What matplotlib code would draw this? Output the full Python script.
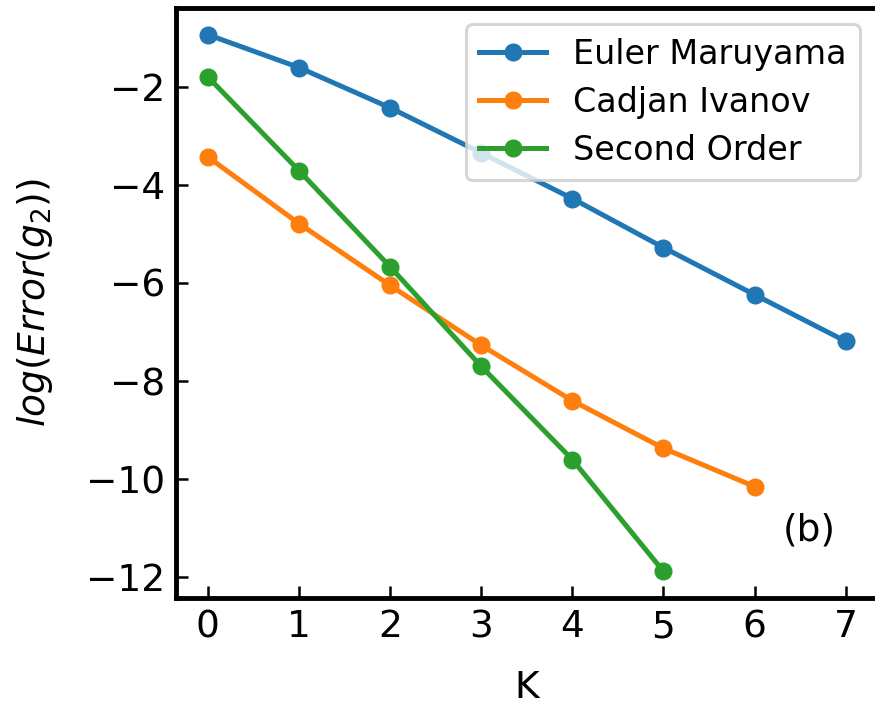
import matplotlib
matplotlib.use("Agg")
import matplotlib.pyplot as plt

K_euler = [0, 1, 2, 3, 4, 5, 6, 7]
err_euler = [-0.94, -1.61, -2.43, -3.35, -4.28, -5.28, -6.24, -7.19]

K_cadjan = [0, 1, 2, 3, 4, 5, 6]
err_cadjan = [-3.43, -4.79, -6.05, -7.27, -8.40, -9.37, -10.15]

K_second = [0, 1, 2, 3, 4, 5]
err_second = [-1.80, -3.71, -5.67, -7.70, -9.60, -11.88]

fig = plt.figure(figsize=(8.75, 7.08), dpi=100)
ax = fig.add_axes([0.201, 0.155, 0.802, 0.834])

ax.plot(K_euler, err_euler, 'o-', lw=3.6, ms=12, label='Euler Maruyama')
ax.plot(K_cadjan, err_cadjan, 'o-', lw=3.6, ms=12, label='Cadjan Ivanov')
ax.plot(K_second, err_second, 'o-', lw=3.6, ms=12, label='Second Order')

ax.set_xticks(range(8))
ax.set_yticks([-12, -10, -8, -6, -4, -2])
ax.tick_params(direction='in', length=8.5, width=1.8, labelsize=27, pad=8)
for s in ax.spines.values():
    s.set_linewidth(3.5)
ax.spines['right'].set_visible(False)

ax.set_xlabel('K', fontsize=27, labelpad=18)
ax.set_ylabel(r'$log(Error(g_2))$', fontsize=27, labelpad=22)
ax.text(0.903, 0.115, '(b)', transform=ax.transAxes, fontsize=27,
        ha='center', va='center')

leg = ax.legend(loc='upper right', fontsize=24, bbox_to_anchor=(0.998, 1.0),
                labelspacing=0.45)
leg.get_frame().set_linewidth(2.2)

fig.savefig('out.png', dpi=100)
